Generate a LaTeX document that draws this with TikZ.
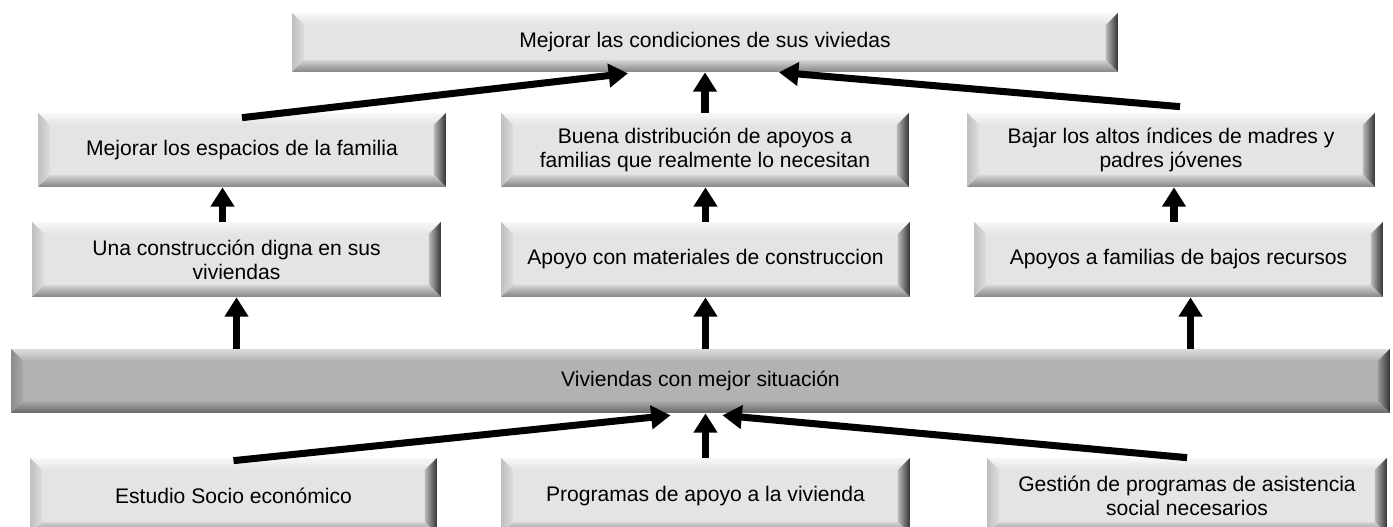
\documentclass[tikz,border=0pt]{standalone}
\usepackage{fontspec}
\setmainfont{Liberation Sans}
\usepackage{tikz}
\usetikzlibrary{arrows.meta,calc}

\definecolor{cara}{HTML}{E4E4E4}
\definecolor{caraosc}{HTML}{B2B2B2}

% bisel: arriba, izquierda, derecha, abajo (exterior / interior)
\newcommand{\bisel}[8]{%
  \coordinate (sw) at (path picture bounding box.south west);
  \coordinate (ne) at (path picture bounding box.north east);
  \coordinate (nw) at (sw |- ne);
  \coordinate (se) at (ne |- sw);
  \coordinate (isw) at ([xshift=0.24cm,yshift=0.24cm]sw);
  \coordinate (ine) at ([xshift=-0.24cm,yshift=-0.24cm]ne);
  \coordinate (inw) at (isw |- ine);
  \coordinate (ise) at (ine |- isw);
  \shade[top color=#1, bottom color=#2] (nw) -- (ne) -- (ine) -- (inw) -- cycle;
  \shade[left color=#3, right color=#4] (nw) -- (inw) -- (isw) -- (sw) -- cycle;
  \shade[right color=#5, left color=#6] (ne) -- (se) -- (ise) -- (ine) -- cycle;
  \shade[bottom color=#7, top color=#8] (sw) -- (isw) -- (ise) -- (se) -- cycle;
}

\tikzset{
  caja/.style={rectangle, inner sep=0pt, fill=cara, minimum width=8.16cm,
    minimum height=1.48cm, align=center, font=\fontsize{12}{13.8}\selectfont,
    path picture={\bisel{white!97!black}{cara}{black!25}{cara!97!black}{black!80}{black!28}{black!48}{black!17}}},
  barra/.style={caja, fill=caraosc,
    path picture={\bisel{black!14}{caraosc}{black!45}{caraosc!95!black}{black!80}{black!40}{black!60}{black!33}}},
  flecha/.style={line width=4pt, -{Triangle[length=11pt,width=13pt]}}
}

\begin{document}
\begin{tikzpicture}[x=0.02cm, y=-0.02cm]
      \useasboundingbox (0,0) rectangle (1393,527);

      %fines
      \node[caja, minimum width=16.52cm, minimum height=1.18cm] (meta) at (705,42.5) {Mejorar las condiciones de sus viviedas};

      \node[caja] (espacios) at (242,150) {Mejorar los espacios de la familia};
      \node[caja] (distrib) at (705,150) {Buena distribución de apoyos a\\familias que realmente lo necesitan};
      \node[caja] (indices) at (1171,150) {Bajar los altos índices de madres y\\padres jóvenes};

      \node[caja, minimum width=8.18cm, minimum height=1.5cm] (construc) at (236.5,259.5) {Una construcción digna en sus\\viviendas};
      \node[caja, minimum width=8.18cm, minimum height=1.5cm] (materiales) at (705.5,259.5) {Apoyo con materiales de construccion};
      \node[caja, minimum width=8.18cm, minimum height=1.5cm] (apoyos) at (1178.5,259.5) {Apoyos a familias de bajos recursos};

      %objetivo
      \node[barra, minimum width=27.58cm, minimum height=1.28cm] (viviendas) at (700.5,381) {Viviendas con mejor situación};

      %medios
      \node[caja, minimum width=8.14cm, minimum height=1.52cm] (estudio) at (233.5,496) {Estudio Socio económico};
      \node[caja, minimum width=8.18cm, minimum height=1.52cm] (programas) at (705.5,496) {Programas de apoyo a la vivienda};
      \node[caja, minimum width=8cm, minimum height=1.52cm] (gestion) at (1187,496) {Gestión de programas de asistencia\\social necesarios};

      \draw[flecha] ([yshift=-0.1cm]espacios.north) -- ($(meta.south)+(-77,1)$);
      \draw[flecha] (distrib.north) -- (meta.south);
      \draw[flecha] ($(indices.north)+(9,-6)$) -- ($(meta.south)+(74,0)$);

      \foreach \a/\b/\s in {construc/espacios/-14, materiales/distrib/0, apoyos/indices/-4.5}  {
      	\draw[flecha] ($(\a.north)+(\s,0)$) -- ($(\a.north |- \b.south)+(\s,0)$);
      }

      \foreach \a/\s in {construc/0, materiales/0, apoyos/12}  {
      	\draw[flecha] ($(viviendas.north -| \a)+(\s,0)$) -- ($(\a.south)+(\s,0)$);
      }

      \draw[flecha] ([yshift=-0.06cm]estudio.north) -- ($(viviendas.south)+(-30,2)$);
      \draw[flecha] (programas.north) -- (programas.north |- viviendas.south);
      \draw[flecha] (gestion.north) -- ($(viviendas.south)+(22,2)$);

\end{tikzpicture}
\end{document}
